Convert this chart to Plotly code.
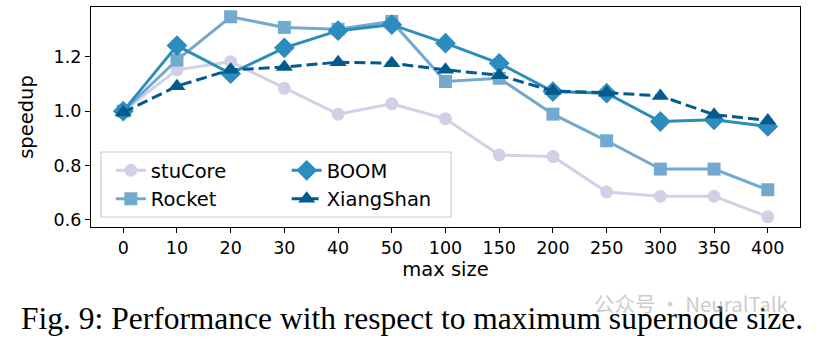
import plotly.graph_objects as go

sizes = ["0", "10", "20", "30", "40", "50", "100", "150", "200", "250", "300", "350", "400"]
stucore = [1.0, 1.152, 1.182, 1.084, 0.989, 1.027, 0.972, 0.839, 0.833, 0.703, 0.687, 0.687, 0.612]
rocket = [1.0, 1.188, 1.347, 1.308, 1.301, 1.330, 1.109, 1.121, 0.989, 0.891, 0.787, 0.787, 0.711]
boom = [1.0, 1.241, 1.138, 1.233, 1.296, 1.318, 1.250, 1.176, 1.072, 1.066, 0.962, 0.968, 0.944]
xiangshan = [0.995, 1.092, 1.152, 1.162, 1.180, 1.176, 1.152, 1.132, 1.074, 1.068, 1.056, 0.987, 0.966]

series = [
    ("stuCore", stucore, "#d0d1e6", "circle", 13, "solid", "legend"),
    ("Rocket", rocket, "#74a9cf", "square", 13, "solid", "legend"),
    ("BOOM", boom, "#2b8cbe", "diamond", 16, "solid", "legend2"),
    ("XiangShan", xiangshan, "#045a8d", "triangle-up", 15, "11px,5px", "legend2"),
]

fig = go.Figure()
for name, vals, color, sym, msize, dash, leg in series:
    fig.add_trace(go.Scatter(
        x=list(range(len(sizes))), y=vals, name=name, mode="lines+markers",
        line=dict(color=color, width=3, dash=dash),
        marker=dict(symbol=sym, size=msize, color=color),
        legend=leg, legendgroup=name,
    ))

font = "DejaVu Sans"
legfont = dict(family=font, size=19.5, color="black")
common_leg = dict(orientation="v", yanchor="top", xanchor="left", y=0.345,
                  bgcolor="rgba(0,0,0,0)", borderwidth=0, font=legfont,
                  tracegroupgap=0)
fig.update_layout(
    width=819, height=342,
    margin=dict(l=91, r=19, t=7, b=115),
    paper_bgcolor="white", plot_bgcolor="white",
    font=dict(family=font, size=17.5, color="black"),
    showlegend=True,
    legend=dict(x=0.028, **common_leg),
    legend2=dict(x=0.276, **common_leg),
    xaxis=dict(
        range=[-0.6, 12.6], tickmode="array",
        tickvals=list(range(len(sizes))), ticktext=sizes,
        showgrid=False, zeroline=False, showline=True, linecolor="black", linewidth=1.3,
        mirror=True, ticks="outside", ticklen=5, tickcolor="black",
        title=dict(text="max size", standoff=5, font=dict(size=19.5)),
    ),
    yaxis=dict(
        range=[0.574, 1.383], tickvals=[0.6, 0.8, 1.0, 1.2], ticktext=["0.6", "0.8", "1.0", "1.2"],
        showgrid=False, zeroline=False, showline=True, linecolor="black", linewidth=1.3,
        mirror=True, ticks="outside", ticklen=5, tickcolor="black",
        title=dict(text="speedup", standoff=14, font=dict(size=19.5)),
    ),
)

# legend frame
fig.add_shape(type="rect", xref="paper", yref="paper",
              x0=0.0141, x1=0.5078, y0=0.0455, y1=0.341,
              line=dict(color="#cccccc", width=1.2), fillcolor="rgba(255,255,255,0.8)",
              layer="above")

fig.add_annotation(
    text="Fig. 9: Performance with respect to maximum supernode size.",
    xref="paper", yref="paper", x=0.5, y=-0.414, xanchor="center", yanchor="middle",
    showarrow=False, font=dict(family="Liberation Serif", size=31.5, color="black"),
    xshift=-34,
)
fig.add_annotation(
    text="公众号 · NeuralTalk",
    xref="paper", yref="paper", x=0.988, y=-0.345, xanchor="right", yanchor="middle",
    showarrow=False, font=dict(family="Noto Sans CJK SC", size=20.5, color="rgba(160,160,160,0.55)"),
)

fig.write_html("out.html")
